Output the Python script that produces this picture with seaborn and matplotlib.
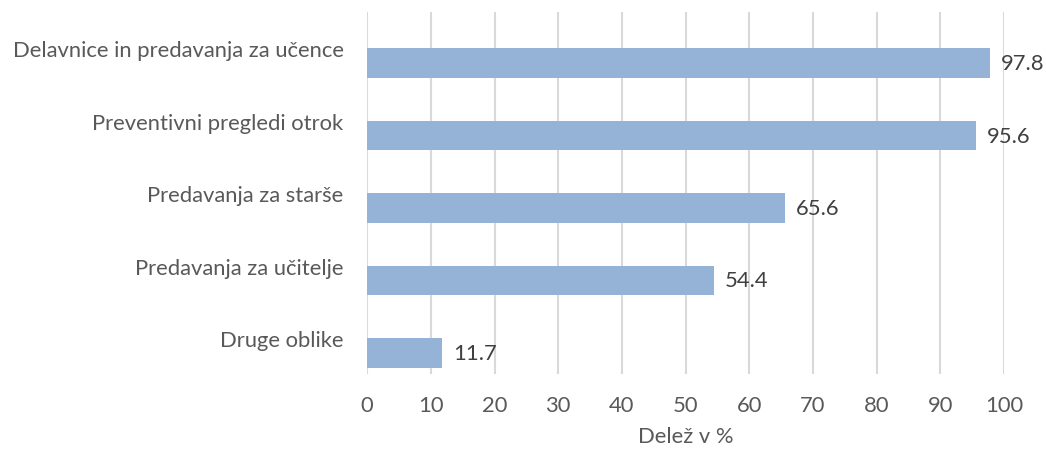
import matplotlib
matplotlib.use('Agg')
import matplotlib.pyplot as plt
import seaborn as sns
import pandas as pd

# data
categories = ['Delavnice in predavanja za učence', 'Preventivni pregledi otrok',
              'Predavanja za starše', 'Predavanja za učitelje', 'Druge oblike']
shares = [97.8, 95.6, 65.6, 54.4, 11.7]
x_ticks = list(range(0, 101, 10))

BAR_COLOR = '#95B3D7'
TEXT_COLOR = '#595959'
GRID_COLOR = '#D9D9D9'
FS = 15.8

# the original is an Excel clustered bar with an empty first series,
# so the real bar sits in the lower half of each category slot
df = pd.DataFrame({
    'kategorija': categories * 2,
    'delez': [0.0] * len(categories) + shares,
    'serija': ['prazno'] * len(categories) + ['Delež'] * len(categories),
})

sns.set_style('white')
plt.rcParams['font.family'] = ['Lato', 'DejaVu Sans']

fig = plt.figure(figsize=(10.46, 4.52), dpi=100)
ax = fig.add_axes([0.351, 0.170, 0.609, 0.801])

sns.barplot(data=df, y='kategorija', x='delez', hue='serija',
            hue_order=['prazno', 'Delež'], order=categories,
            palette={'prazno': BAR_COLOR, 'Delež': BAR_COLOR}, saturation=1,
            width=0.82, dodge=True, linewidth=0, legend=False, ax=ax, zorder=3)

# labels only for the real series
ax.bar_label(ax.containers[1], labels=[f'{v:.1f}' for v in shares],
             padding=8, fontsize=FS, color='#404040')

ax.set_xlim(0, 100)
ax.set_ylim(len(categories) - 0.5, -0.5)
ax.set_xticks(x_ticks)
ax.grid(axis='x', color=GRID_COLOR, linewidth=1.5, zorder=0)
ax.grid(axis='y', visible=False)
for s in ax.spines.values():
    s.set_visible(False)

ax.tick_params(axis='y', length=0, pad=17, labelsize=FS, labelcolor=TEXT_COLOR)
ax.tick_params(axis='x', length=0, pad=15, labelsize=FS, labelcolor=TEXT_COLOR)
ax.set_ylabel('')
ax.set_xlabel('Delež v %', fontsize=FS, color=TEXT_COLOR, labelpad=8)

fig.savefig('out.png', dpi=100)
